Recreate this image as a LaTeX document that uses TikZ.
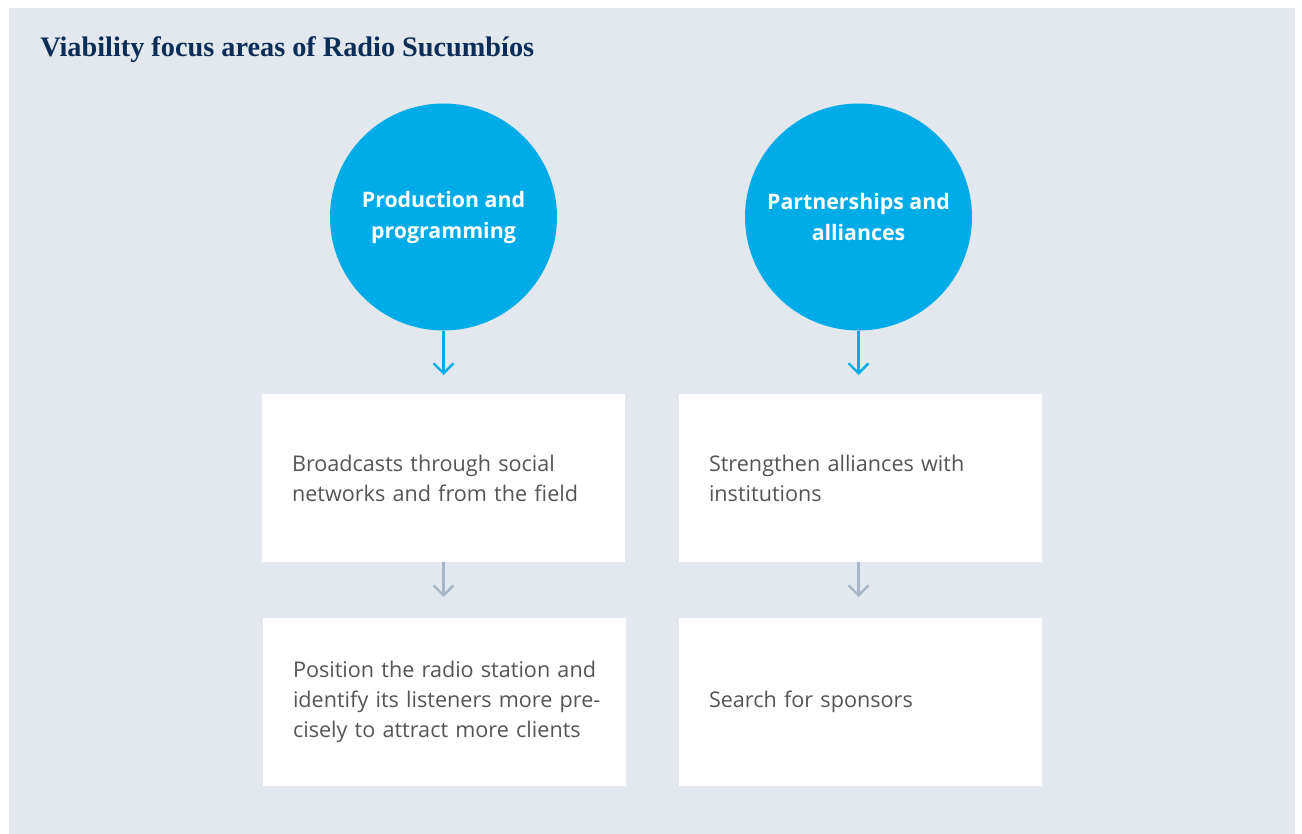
\documentclass[tikz,border=0pt]{standalone}
\usepackage{fontspec}
\setmainfont{Open Sans}
\newfontfamily\titlefont{Liberation Serif}
\usetikzlibrary{arrows.meta}
\definecolor{panel}{HTML}{E3E8EF}
\definecolor{circblue}{HTML}{00ACE8}
\definecolor{bodytext}{HTML}{555555}
\definecolor{navy}{HTML}{0B2D57}
\definecolor{greyarrow}{HTML}{A7B6C6}
\tikzset{
  focus/.style={circle, fill=circblue, draw=none, minimum size=227*0.75pt, inner sep=0pt,
    align=center, text=white, font=\fontsize{16}{23.2}\selectfont\bfseries},
  textbox/.style={rectangle, fill=white, draw=none, minimum width=363*0.75pt, minimum height=168*0.75pt,
    text width=303*0.75pt, inner xsep=30*0.75pt, inner ysep=0pt, align=left, text=bodytext,
    font=\fontsize{16.2}{22.5}\selectfont},
  bluearrow/.style={draw=circblue, line width=1.8pt, -{Straight Barb[length=7.5pt, width=15pt, line width=1.8pt]}},
  greyarr/.style={draw=greyarrow, line width=1.8pt, -{Straight Barb[length=7.5pt, width=15pt, line width=1.8pt]}},
}
\begin{document}
\begin{tikzpicture}[x=0.75pt, y=-0.75pt]
\useasboundingbox (0,0) rectangle (1302,834);
\fill[white] (0,0) rectangle (1302,834);
\fill[panel] (9,8) rectangle (1295,834);
\node[anchor=base west, text=navy, inner sep=0pt, font=\titlefont\fontsize{21.2}{26}\selectfont\bfseries] (title) at (40,57) {Viability focus areas of Radio Sucumbíos};

\node[focus] (c1) at (443.5,217) {Production and\\programming};
\node[focus] (c2) at (858.5,217) {Partnerships and\\alliances};

\node[textbox] (b1) at (443.5,478) {\mbox{Broadcasts through social}\\\mbox{networks and from the field}};
\node[textbox] (b2) at (444.5,702) {\mbox{Position the radio station and}\\\mbox{identify its listeners more pre-}\\\mbox{cisely to attract more clients}};
\node[textbox] (b3) at (860.5,478) {\mbox{Strengthen alliances with}\\\mbox{institutions}};
\node[textbox] (b4) at (860.5,702) {\mbox{Search for sponsors}};

\coordinate (a1) at (443.5,375);
\coordinate (a2) at (858.5,375);
\draw[bluearrow] (c1.south) -- (a1);
\draw[bluearrow] (c2.south) -- (a2);
\coordinate (g1) at (443.5,597);
\coordinate (g2) at (858.5,597);
\draw[greyarr] (b1.south -| g1) -- (g1);
\draw[greyarr] (b3.south -| g2) -- (g2);
\end{tikzpicture}
\end{document}
